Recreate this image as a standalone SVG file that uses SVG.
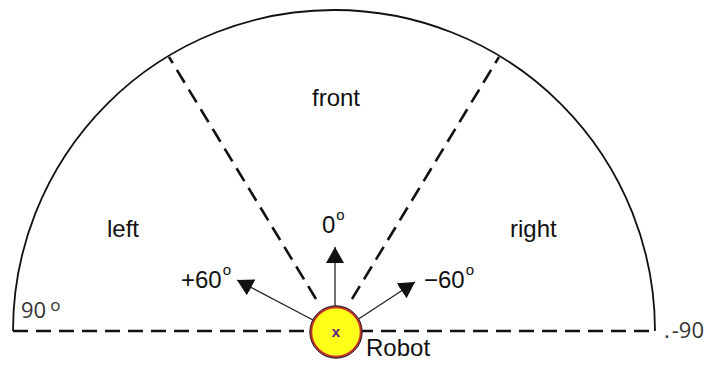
<svg xmlns="http://www.w3.org/2000/svg" width="706" height="365" viewBox="0 0 706 365">
<style>
.lbl{font-family:"Liberation Sans",Arial,sans-serif;font-size:24px;fill:#111}
.deg{font-size:15px}
.dash{stroke:#111;stroke-width:2.6;stroke-dasharray:15 8;fill:none}
.arr{stroke:#222;stroke-width:1.3;fill:none;marker-end:url(#ah)}
.cal{font-family:"Open Sans","Liberation Sans",sans-serif;font-size:22px;fill:#333}
</style>
<defs>
<marker id="ah" markerUnits="userSpaceOnUse" markerWidth="18" markerHeight="18" refX="16" refY="9" orient="auto" viewBox="0 0 18 18">
<path d="M0,0 L16,9 L0,18 Z" fill="#111"/>
</marker>
</defs>
<rect width="706" height="365" fill="#fff"/>
<g id="boundary">
<path d="M13,331 A321,321 0 0 1 655,331" fill="none" stroke="#111" stroke-width="1.8"/>
</g>
<g id="connectors">
<line class="dash" x1="13" y1="331" x2="655" y2="331"/>
<line class="dash" x1="316" y1="299" x2="169" y2="57"/>
<line class="dash" x1="352" y1="299" x2="499" y2="57"/>
<line class="arr" x1="335" y1="307" x2="335" y2="247"/>
<line class="arr" x1="313" y1="320" x2="237" y2="280"/>
<line class="arr" x1="357" y1="320" x2="415" y2="282"/>
</g>
<g id="robot">
<circle cx="336" cy="332" r="25" fill="#ffff1a" stroke="#c0302a" stroke-width="2.5"/>
<circle cx="336" cy="332" r="26.2" fill="none" stroke="#222" stroke-width="1"/>
<text x="336" y="337" text-anchor="middle" font-family="Liberation Sans,Arial,sans-serif" font-size="15" font-weight="bold" fill="#5a1a8a">x</text>
<text class="lbl" x="366" y="356">Robot</text>
</g>
<g id="front"><text class="lbl" x="336" y="106" text-anchor="middle">front</text></g>
<g id="left"><text class="lbl" x="107" y="237">left</text></g>
<g id="right"><text class="lbl" x="510" y="237">right</text></g>
<g id="a0"><text class="lbl" x="322" y="233">0<tspan class="deg" dx="1" dy="-13">o</tspan></text></g>
<g id="a60"><text class="lbl" x="181" y="288">+60<tspan class="deg" dx="1" dy="-13">o</tspan></text></g>
<g id="am60"><text class="lbl" x="424" y="288">−60<tspan class="deg" dx="1" dy="-13">o</tspan></text></g>
<g id="a90"><text class="cal" x="21" y="318">90<tspan dx="4" dy="-7" font-size="17">o</tspan></text></g>
<g id="am90"><text class="cal" x="664" y="338">.<tspan dx="2">-90</tspan></text></g>
</svg>
